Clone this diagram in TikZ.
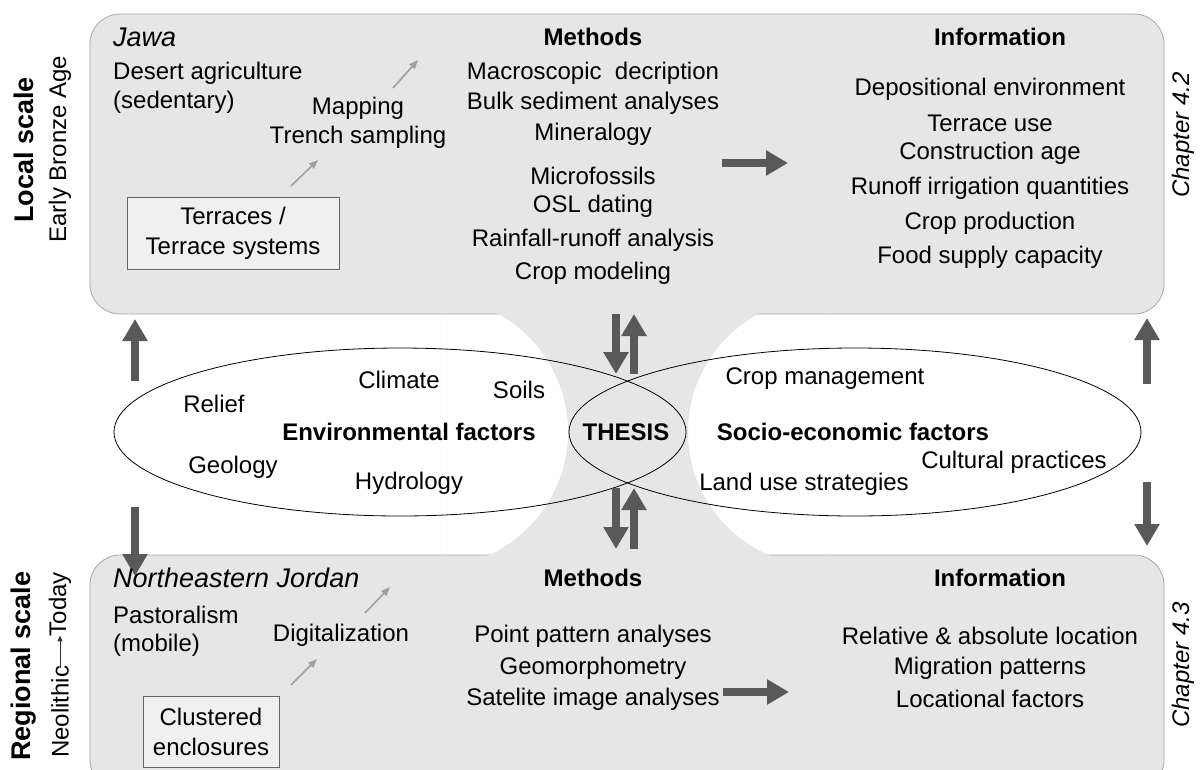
\documentclass[tikz,border=0pt]{standalone}
\usepackage{fontspec}
\setmainfont{Liberation Sans}
\usetikzlibrary{arrows.meta}
\definecolor{boxgrey}{HTML}{E6E6E6}
\definecolor{boxline}{HTML}{A8A8A8}
\definecolor{innerfill}{HTML}{F0F0F0}
\definecolor{innerline}{HTML}{666666}
\definecolor{bigarrow}{HTML}{595959}
\definecolor{smallarrow}{HTML}{A0A0A0}
\begin{document}
\begin{tikzpicture}[x=1pt,y=-1pt,
  every node/.style={font=\fontsize{24}{30}\selectfont, inner sep=0pt},
  lefttxt/.style={anchor=west},
  place/.style={anchor=west, font=\fontsize{27}{30}\selectfont\itshape},
  hd/.style={font=\fontsize{24}{30}\selectfont\bfseries},
  scalelbl/.style={rotate=90, font=\fontsize{27}{30}\selectfont\bfseries},
  sublbl/.style={rotate=90},
  chap/.style={rotate=90, font=\fontsize{24}{30}\selectfont\itshape},
  bigbox/.style={fill=boxgrey, draw=boxline, line width=0.8pt, rounded corners=30pt},
  innerbox/.style={fill=innerfill, draw=innerline, line width=0.8pt, align=center},
  bigarr/.style={draw=bigarrow, line width=8pt, -{Triangle[length=22pt,width=24pt]}, bigarrow},
  smallarr/.style={draw=smallarrow, line width=1.6pt, -{Triangle[length=9pt,width=7pt]}, smallarrow},
  ell/.style={draw=black, line width=0.8pt}
]
\useasboundingbox (0,0) rectangle (1202,769);
% boxes
\draw[bigbox] (90,14) rectangle (1164,314);
\draw[bigbox] (90,555) rectangle (1164,790);
% neck
\begin{scope}
  \clip (440,305) rectangle (830,566);
  \fill[boxgrey, even odd rule] (440,305) rectangle (830,566)
     (433,432) circle (135) (822,432) circle (134);
\end{scope}
% ellipses
\draw[ell] (400,432) ellipse [x radius=286, y radius=84];
\draw[ell] (855,432) ellipse [x radius=286, y radius=84];

% top box content
\node[place] (jawa) at (113,37) {Jawa};
\node[lefttxt] (da1) at (113,73) {Desert agriculture};
\node[lefttxt] (da2) at (113,102) {(sedentary)};
\node (map) at (358,108) {Mapping};
\node (trench) at (358,137) {Trench sampling};
\coordinate (a1s) at (393,88); \coordinate (a1e) at (418,60);
\draw[smallarr] (a1s) -- (a1e);
\coordinate (a2s) at (291,186); \coordinate (a2e) at (318,160);
\draw[smallarr] (a2s) -- (a2e);
\node[innerbox, minimum width=212pt, minimum height=72pt] (terr) at (233,233) {Terraces /\\Terrace systems};

\node[hd] (meth1) at (593,37) {Methods};
\node (m1) at (593,73) {Macroscopic\ \ decription};
\node (m2) at (593,103) {Bulk sediment analyses};
\node (m3) at (593,134) {Mineralogy};
\node (m4) at (593,176) {Microfossils};
\node (m5) at (593,206) {OSL dating};
\node (m6) at (593,240) {Rainfall-runoff analysis};
\node (m7) at (593,273) {Crop modeling};

\coordinate (h1s) at (722,163); \coordinate (h1e) at (788,163);
\draw[bigarr] (h1s) -- (h1e);

\node[hd] (info1) at (1000,37) {Information};
\node (i1) at (990,89) {Depositional environment};
\node (i2) at (990,123) {Terrace use};
\node (i3) at (990,153) {Construction age};
\node (i4) at (990,188) {Runoff irrigation quantities};
\node (i5) at (990,223) {Crop production};
\node (i6) at (990,257) {Food supply capacity};

% left labels
\node[scalelbl] (local) at (24,150) {Local scale};
\node[sublbl] (eba) at (60,149) {Early Bronze Age};
\node[scalelbl] (regional) at (24,666) {Regional scale};
\node[sublbl, anchor=west] (neo) at (60,758) {Neolithic};
\node[sublbl, anchor=east] (today) at (60,572) {Today};
\draw[line width=1pt, draw=black!80, -{Triangle[length=6pt,width=5pt]}] ([yshift=-2pt]neo.east) -- ([yshift=1pt]today.west);

% chapters
\node[chap] (ch2) at (1183,135) {Chapter 4.2};
\node[chap] (ch3) at (1183,665) {Chapter 4.3};

% vertical arrows
\coordinate (lu1) at (135,381); \coordinate (lu2) at (135,319);
\draw[bigarr] (lu1) -- (lu2);
\coordinate (ld1) at (135,507); \coordinate (ld2) at (135,576);
\draw[bigarr] (ld1) -- (ld2);
\coordinate (ru1) at (1147,384); \coordinate (ru2) at (1147,318);
\draw[bigarr] (ru1) -- (ru2);
\coordinate (rd1) at (1147,482); \coordinate (rd2) at (1147,546);
\draw[bigarr] (rd1) -- (rd2);
\coordinate (ct1) at (616,314); \coordinate (ct2) at (616,374);
\draw[bigarr] (ct1) -- (ct2);
\coordinate (ct3) at (634,374); \coordinate (ct4) at (634,314);
\draw[bigarr] (ct3) -- (ct4);
\coordinate (cb1) at (616,488); \coordinate (cb2) at (616,549);
\draw[bigarr] (cb1) -- (cb2);
\coordinate (cb3) at (634,549); \coordinate (cb4) at (634,488);
\draw[bigarr] (cb3) -- (cb4);

% ellipse texts
\node[hd] (thesis) at (626,432) {THESIS};
\node[hd] (env) at (409,432) {Environmental factors};
\node (relief) at (214,404) {Relief};
\node (climate) at (399,380) {Climate};
\node (soils) at (519,390) {Soils};
\node (geology) at (233,467) {Geology};
\node (hydro) at (409,483) {Hydrology};
\node[hd] (socio) at (853,432) {Socio-economic factors};
\node (cropm) at (825,379) {Crop management};
\node (landuse) at (804,484) {Land use strategies};
\node (cult) at (1014,462) {Cultural practices};

% bottom box content
\node[place] (nej) at (113,578) {Northeastern Jordan};
\node[lefttxt] (past1) at (113,615) {Pastoralism};
\node[lefttxt] (past2) at (113,645) {(mobile)};
\node (digit) at (341,635) {Digitalization};
\coordinate (b1s) at (365,613); \coordinate (b1e) at (390,587);
\draw[smallarr] (b1s) -- (b1e);
\coordinate (b2s) at (291,685); \coordinate (b2e) at (317,659);
\draw[smallarr] (b2s) -- (b2e);
\node[innerbox, minimum width=136pt, minimum height=71pt] (clust) at (211,732) {Clustered\\enclosures};

\node[hd] (meth2) at (593,578) {Methods};
\node (p1) at (593,636) {Point pattern analyses};
\node (p2) at (593,668) {Geomorphometry};
\node (p3) at (593,699) {Satelite image analyses};
\coordinate (h2s) at (723,692); \coordinate (h2e) at (789,692);
\draw[bigarr] (h2s) -- (h2e);
\node[hd] (info2) at (1000,578) {Information};
\node (r1) at (990,636) {Relative \& absolute location};
\node (r2) at (990,668) {Migration patterns};
\node (r3) at (990,699) {Locational factors};
\end{tikzpicture}
\end{document}
